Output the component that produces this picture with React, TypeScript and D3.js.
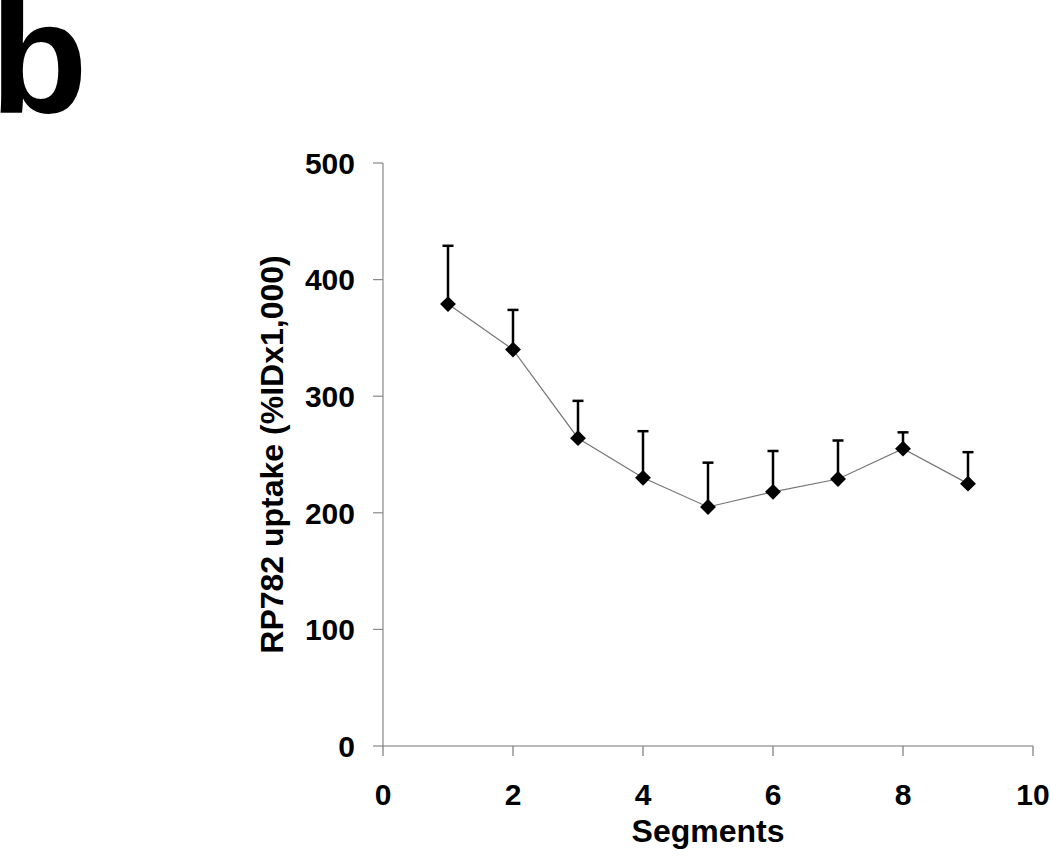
import React from "react";
import * as d3 from "d3";

const segments = [1, 2, 3, 4, 5, 6, 7, 8, 9];
const uptake = [379, 340, 264, 230, 205, 218, 229, 255, 225];
const errorTop = [429, 374, 296, 270, 243, 253, 262, 269, 252];
const xTicks = [0, 2, 4, 6, 8, 10];
const yTicks = [0, 100, 200, 300, 400, 500];

const W = 1050;
const H = 858;
const M = { left: 383, right: 1033, top: 163, bottom: 746 };
const FONT = "'Liberation Sans', Arial, Helvetica, sans-serif";

export default function App() {
  const x = d3.scaleLinear().domain([0, 10]).range([M.left, M.right]);
  const y = d3.scaleLinear().domain([0, 500]).range([M.bottom, M.top]);
  const line = d3
    .line<number>()
    .x((_, i) => x(segments[i]))
    .y((d) => y(d));
  const diamond = d3.symbol().type(d3.symbolDiamond2).size(160)();

  return (
    <svg
      width={W}
      height={H}
      style={{ position: "absolute", left: 0, top: 0, background: "#fff" }}
      fontFamily={FONT}
    >
      <text x={-10} y={113} fontSize={160} fontWeight="bold" fill="#000">
        b
      </text>

      {/* axes */}
      <line x1={M.left} x2={M.left} y1={y(500)} y2={y(0)} stroke="#888" strokeWidth={1.2} />
      <line x1={M.left} x2={M.right} y1={y(0)} y2={y(0)} stroke="#777" strokeWidth={1.2} />
      {yTicks.map((t) => (
        <g key={"y" + t}>
          <line x1={M.left - 10} x2={M.left} y1={y(t)} y2={y(t)} stroke="#888" strokeWidth={1.2} />
          <text
            x={355}
            y={y(t)}
            dy="0.36em"
            textAnchor="end"
            fontSize={30}
            fontWeight="bold"
            fill="#000"
          >
            {t}
          </text>
        </g>
      ))}
      {xTicks.map((t) => (
        <g key={"x" + t}>
          <line x1={x(t)} x2={x(t)} y1={y(0)} y2={y(0) + 10} stroke="#777" strokeWidth={1.2} />
          <text x={x(t)} y={805} textAnchor="middle" fontSize={30} fontWeight="bold" fill="#000">
            {t}
          </text>
        </g>
      ))}

      <text x={(M.left + M.right) / 2} y={842} textAnchor="middle" fontSize={32} fontWeight="bold" fill="#000">
        Segments
      </text>
      <text
        transform={`translate(283, ${(M.top + M.bottom) / 2}) rotate(-90)`}
        textAnchor="middle"
        fontSize={32}
        fontWeight="bold"
        fill="#000"
      >
        RP782 uptake (%IDx1,000)
      </text>

      {/* line */}
      <path d={line(uptake) || ""} fill="none" stroke="#777" strokeWidth={1.2} />

      {/* error bars */}
      {segments.map((s, i) => (
        <g key={"e" + s}>
          <line x1={x(s)} x2={x(s)} y1={y(uptake[i])} y2={y(errorTop[i])} stroke="#000" strokeWidth={2.5} />
          <line x1={x(s) - 5.5} x2={x(s) + 5.5} y1={y(errorTop[i])} y2={y(errorTop[i])} stroke="#000" strokeWidth={2.5} />
        </g>
      ))}

      {/* markers */}
      {segments.map((s, i) => (
        <path key={"m" + s} d={diamond || ""} transform={`translate(${x(s)},${y(uptake[i])})`} fill="#000" />
      ))}
    </svg>
  );
}
